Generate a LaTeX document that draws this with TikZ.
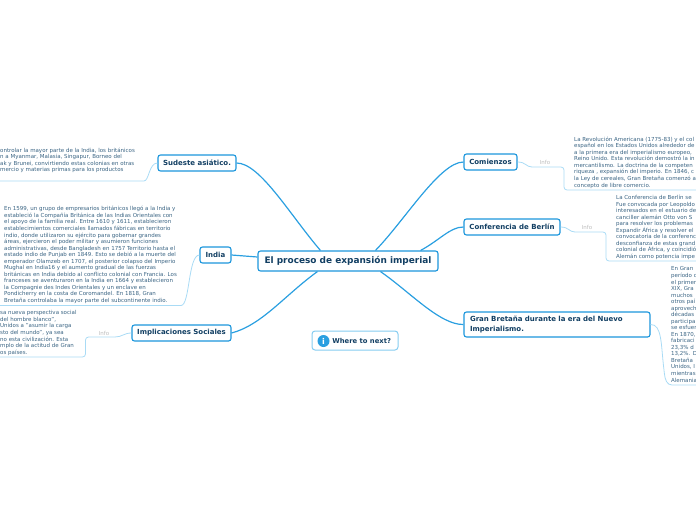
\documentclass[tikz,border=0pt]{standalone}
\usepackage{fontspec}
\setmainfont{DejaVu Sans}
\usetikzlibrary{positioning}
\definecolor{mapline}{HTML}{2A9FE0}
\definecolor{mapedge}{HTML}{1C96DC}
\definecolor{maplight}{HTML}{A9DBF5}
\definecolor{mapnext}{HTML}{86CDF1}
\definecolor{mapink}{HTML}{123F63}
\definecolor{mapbody}{HTML}{3A6483}
\definecolor{mapinfo}{HTML}{BDBDBD}
\tikzset{
  rootbox/.style={draw=mapedge, line width=1.1pt, fill=white, rounded corners=2.5pt,
                  inner sep=0pt, text=mapink, font=\fontsize{8.95}{11}\selectfont\bfseries},
  topicbox/.style={draw=mapedge, line width=1.1pt, fill=white, rounded corners=2.5pt,
                   inner sep=0pt, text=mapink, font=\fontsize{7}{9.2}\selectfont\bfseries},
  nextbox/.style={draw=mapnext, line width=1pt, fill=white, rounded corners=3pt,
                  inner sep=0pt, minimum width=86, minimum height=19},
  bodytext/.style={anchor=north west, inner sep=0pt, align=left, text=mapbody,
                   font=\fontsize{5.5}{6.53}\selectfont},
  infotext/.style={inner sep=0pt, text=mapinfo, font=\fontsize{5.5}{6.5}\selectfont},
  branch/.style={line width=1.2pt, color=mapline},
  twig/.style={line width=0.8pt, color=maplight, rounded corners=3pt}}
\begin{document}
\begin{tikzpicture}[x=1pt,y=-1pt]
        \useasboundingbox (0,0) rectangle (696,520);
        \node[rootbox, minimum width=180, minimum height=20] (root) at (348,261)
          {El proceso de expansión imperial};
        \node[topicbox, minimum width=78, minimum height=16] (sudeste) at (197,163) {Sudeste asiático.};
        \node[topicbox, minimum width=31, minimum height=16] (india) at (215.5,255) {India};
        \node[topicbox, minimum width=99, minimum height=16] (social) at (181.5,333) {Implicaciones Sociales};
        \node[topicbox, minimum width=53, minimum height=16] (comienzos) at (490.5,162) {Comienzos};
        \node[topicbox, minimum width=96, minimum height=16] (berlin) at (512,227) {Conferencia de Berlín};
        \node[topicbox, minimum width=186, minimum height=25, align=left, text width=174] (bretana) at (557,324.5)
          {Gran Bretaña durante la era del Nuevo\\ Imperialismo.};
        \node[nextbox] (next) at (355,340.5) {};
        \node[circle, fill=mapline, inner sep=0pt, minimum size=12, text=white,
              font=\fontsize{8}{9}\selectfont\bfseries] (icon) at (323.5,341) {i};
        \node[right=2.5pt of icon, inner sep=0pt, text=mapink,
              font=\fontsize{6.8}{8}\selectfont\bfseries] (nexttext) {Where to next?};
        % main branches
        \path (root.north west) ++(63,0) coordinate (r1);
        \draw[branch] (r1) .. controls (290,215) and (260,163) .. (sudeste.east);
        \path (root.west) ++(0,-4) coordinate (r2);
        \draw[branch] (r2) -- (india.east);
        \path (root.south west) ++(60,0) coordinate (r3);
        \draw[branch] (r3) .. controls (285,295) and (262,325) .. (social.east);
        \path (root.north west) ++(118,0) coordinate (r4);
        \draw[branch] (r4) .. controls (405,220) and (440,162) .. (comienzos.west);
        \path (root.north east) ++(-18,0) coordinate (r5);
        \draw[branch] (r5) .. controls (440,240) and (450,227) .. (berlin.west);
        \path (root.south west) ++(123,0) coordinate (r6);
        \draw[branch] (r6) .. controls (410,292) and (440,325) .. (bretana.west);
        % detail texts
        \node[bodytext] (sudestetext) at (0,147.5)
          {ontrolar la mayor parte de la India, los británicos\\ n a Myanmar, Malasia, Singapur, Borneo del\\ ak y Brunei, convirtiendo estas colonias en otras\\ mercio y materias primas para los productos};
        \node[bodytext] (indiatext) at (4,206.3)
          {En 1599, un grupo de empresarios británicos llegó a la India y\\ estableció la Compañía Británica de las Indias Orientales con\\ el apoyo de la familia real. Entre 1610 y 1611, establecieron\\ establecimientos comerciales llamados fábricas en territorio\\ indio, donde utilizaron su ejército para gobernar grandes\\ áreas, ejercieron el poder militar y asumieron funciones\\ administrativas, desde Bangladesh en 1757 Territorio hasta el\\ estado indio de Punjab en 1849. Esto se debió a la muerte del\\ emperador Olamzeb en 1707, el posterior colapso del Imperio\\ Mughal en India16 y el aumento gradual de las fuerzas\\ británicas en India debido al conflicto colonial con Francia. Los\\ franceses se aventuraron en la India en 1664 y establecieron\\ la Compagnie des Indes Orientales y un enclave en\\ Pondicherry en la costa de Coromandel. En 1818, Gran\\ Bretaña controlaba la mayor parte del subcontinente indio.};
        \node[bodytext] (socialtext) at (0,310.5)
          {sa nueva perspectiva social\\ del hombre blanco",\\ Unidos a "asumir la carga\\ sto del mundo", ya sea\\ no esta civilización. Esta\\ mplo de la actitud de Gran\\ os países.};
        \node[bodytext] (comienzostext) at (574,136.7)
          {La Revolución Americana (1775-83) y el col\\ español en los Estados Unidos alrededor de\\ a la primera era del imperialismo europeo, \\ Reino Unido. Esta revolución demostró la in\\ mercantilismo. La doctrina de la competen\\ riqueza , expansión del imperio. En 1846, c\\ la Ley de cereales, Gran Bretaña comenzó a\\ concepto de libre comercio.};
        \node[bodytext] (berlintext) at (616,195)
          {La Conferencia de Berlín se\\ Fue convocada por Leopoldo\\ interesados en el estuario de\\ canciller alemán Otto von S\\ para resolver los problemas\\ Expandir África y resolver el\\ convocatoria de la conferenc\\ desconfianza de estas grand\\ colonial de África, y coincidió\\ Alemán como potencia impe};
        \node[bodytext] (bretanatext) at (671,266.7)
          {En Gran\\ período d\\ el primer\\ XIX, Gra\\ muchos\\ otros paí\\ aprovech\\ décadas\\ participa\\ se esfuer\\ En 1870,\\ fabricaci\\ 23,3\% d\\ 13,2\%. D\\ Bretaña\\ Unidos, I\\ mientras\\ Alemania};
        % info twigs
        \path (0,181) coordinate (sudesteend);
        \path (0,305.5) coordinate (indiaend);
        \path (0,357) coordinate (socialend);
        \path (696,190) coordinate (comienzosend);
        \path (696,261) coordinate (berlinend);
        \path (696,385) coordinate (bretanaend);
        \draw[twig] (sudeste.west) .. controls (149,163) and (149,181) .. (141,181) -- (sudesteend);
        \draw[twig] (india.west) .. controls (188,255) and (190,305.5) .. (178,305.5) -- (indiaend);
        \node[infotext] (socialinfo) at (104,333) {Info};
        \draw[twig] (social.west) .. controls (124,333) and (122,337) .. (112,337) -- (85.5,337) -- (85.5,357) -- (socialend);
        \node[infotext] (comienzosinfo) at (545,162) {Info};
        \draw[twig] (comienzos.east) .. controls (526,162) and (526,167) .. (535,167) -- (564,167) -- (564,190) -- (comienzosend);
        \node[infotext] (berlininfo) at (587,227) {Info};
        \draw[twig] (berlin.east) .. controls (569,227) and (569,232) .. (578,232) -- (606,232) -- (606,261) -- (berlinend);
        \draw[twig] (bretana.east) .. controls (662,324) and (661,345) .. (664,370) .. controls (665,380) and (667,385) .. (675,385) -- (bretanaend);
      \end{tikzpicture}
\end{document}
